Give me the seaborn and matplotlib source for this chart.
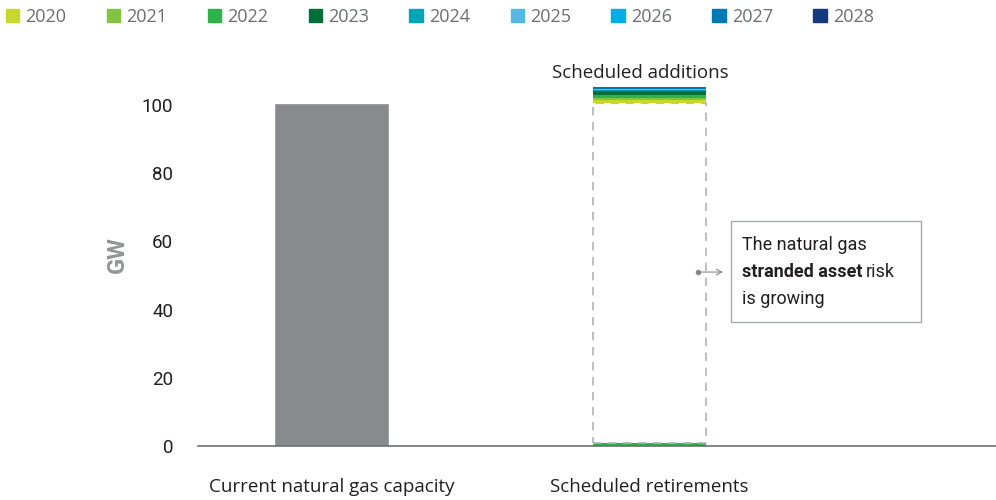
import matplotlib
matplotlib.use('Agg')
import matplotlib.pyplot as plt
import matplotlib.patches as mpatches
import seaborn as sns
import pandas as pd

# ==== Data ====
categories = ["Current natural gas capacity", "Scheduled retirements"]
current_capacity = 100.5
years = ["2020", "2021", "2022", "2023", "2024", "2025", "2026", "2027", "2028"]
year_colors = ["#c8d72e", "#82c341", "#2db34a", "#006f3a", "#00a6b6",
               "#56b9e5", "#00aee7", "#0079b3", "#15397f"]
retirements = [0.0, 0.0, 0.9, 0.0, 0.0, 0.0, 0.0, 0.0, 0.0]
additions = [0.8, 0.7, 0.9, 1.1, 0.5, 0.1, 0.1, 0.6, 0.1]
yticks = [0, 20, 40, 60, 80, 100]

sns.set_style("white")
plt.rcParams["font.family"] = ["Roboto", "DejaVu Sans"]

main_font = ["Open Sans", "DejaVu Sans"]
cond_font = ["Roboto", "DejaVu Sans"]
dark = "#231f20"

fig = plt.figure(figsize=(9.96, 5.0), dpi=100)
ax = fig.add_axes([0.199, 0.108, 0.801, 0.764])

df = pd.DataFrame({"category": categories,
                   "value": [current_capacity, 0.0]})
sns.barplot(data=df, x="category", y="value", hue="category",
            palette=["#888a8d", "#888a8d"], width=0.36, legend=False,
            saturation=1, ax=ax)

bar_w = 0.355
# retirements stacked at bottom
bottom = 0.0
for val, col in zip(retirements, year_colors):
    if val > 0:
        ax.bar(1, val, bottom=bottom, width=bar_w, color=col, linewidth=0)
    bottom += val
ret_total = bottom

# ghost outline of remaining capacity
ax.bar(1, current_capacity - ret_total, bottom=ret_total, width=bar_w,
       fill=False, edgecolor="#b3b3b3", linestyle=(0, (5, 4)), linewidth=1.2)

# scheduled additions on top
bottom = current_capacity
for val, col in zip(additions, year_colors):
    ax.bar(1, val, bottom=bottom, width=bar_w, color=col, linewidth=0)
    bottom += val

ax.text(0.97, bottom + 1.3, "Scheduled additions", ha="center", va="bottom",
        fontsize=13.5, color=dark, family=main_font)

ax.set_xlim(-0.42, 2.09)
ax.set_ylim(0, 112)
ax.set_yticks(yticks)
ax.set_yticklabels([str(t) for t in yticks], family=cond_font,
                   fontsize=13.5, color=dark)
ax.tick_params(axis="y", length=0, pad=18)
ax.tick_params(axis="x", length=0, pad=23)
for lab in ax.get_xticklabels():
    lab.set_family(main_font)
    lab.set_fontsize(13.5)
    lab.set_color(dark)
ax.set_xlabel("")
ax.set_ylabel("GW", fontsize=17, fontweight="bold", color="#939598",
              family=cond_font, labelpad=9)

for s in ["top", "right", "left"]:
    ax.spines[s].set_visible(False)
ax.spines["bottom"].set_color("#6d6e71")
ax.spines["bottom"].set_linewidth(1.2)

# annotation box
ax.annotate("", xy=(1.24, 51), xytext=(1.152, 51),
            arrowprops=dict(arrowstyle="->", color="#888a8d", lw=0.8))
ax.plot([1.152], [51], marker="o", markersize=3, color="#888a8d")
box = mpatches.Rectangle((1.255, 36.5), 0.6, 29.5, fill=False,
                         edgecolor="#a7a9ac", linewidth=1.0)
ax.add_patch(box)
fs_note = 13
ax.text(1.29, 58.8, "The natural gas", fontsize=fs_note, color=dark,
        family=cond_font, va="center")
t1 = ax.text(1.29, 51.0, "stranded asset", fontsize=fs_note, color=dark,
             family=cond_font, va="center", fontweight="bold")
ax.text(1.29, 43.2, "is growing", fontsize=fs_note, color=dark,
        family=cond_font, va="center")
fig.canvas.draw()
bb = t1.get_window_extent().transformed(ax.transData.inverted())
ax.text(bb.x1 + 0.01, 51.0, "risk", fontsize=fs_note, color=dark,
        family=cond_font, va="center")

# legend
handles = [mpatches.Patch(color=c, label=y) for y, c in zip(years, year_colors)]
fig.legend(handles=handles, loc="upper left", bbox_to_anchor=(-0.007, 1.01),
           ncol=9, frameon=False, handlelength=0.75, handleheight=0.75,
           handletextpad=0.35, columnspacing=2.22, borderaxespad=0.3,
           prop={"family": main_font, "size": 13}, labelcolor="#6d6e71")

fig.savefig("out.png", dpi=100)
